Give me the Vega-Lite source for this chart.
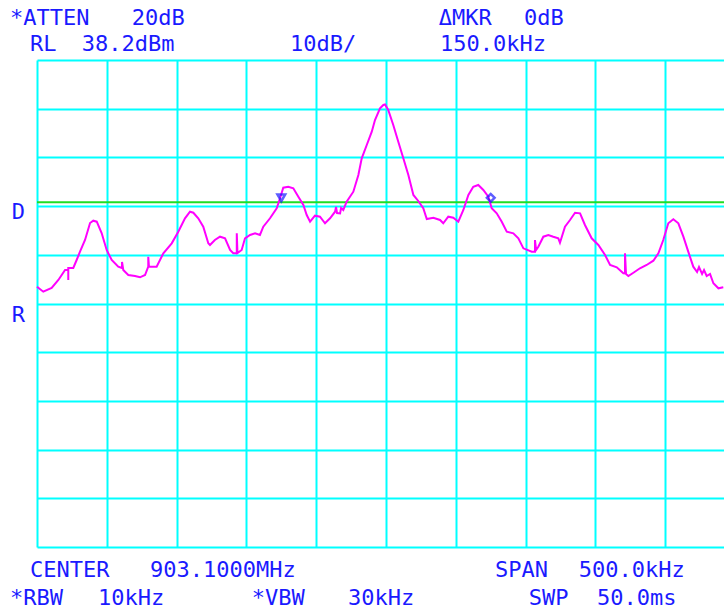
{
  "$schema": "https://vega.github.io/schema/vega-lite/v6.json",
  "width": 687,
  "height": 487,
  "autosize": {"type": "none"},
  "padding": {"left": 37, "top": 60, "right": 0, "bottom": 64},
  "background": "white",
  "config": {"view": {"stroke": null}},
  "datasets": {
    "trace": [
      {"i":1,"x":-250.0,"y":-8.35},{"i":2,"x":-245.5,"y":-9.38},{"i":3,"x":-239.5,"y":-8.62},{"i":4,"x":-234.7,"y":-6.97},
      {"i":5,"x":-229.9,"y":-4.92},{"i":6,"x":-227.6,"y":-4.92},{"i":7,"x":-227.6,"y":-6.97},{"i":8,"x":-227.6,"y":-4.51},
      {"i":9,"x":-224.0,"y":-4.51},{"i":10,"x":-221.6,"y":-2.87},{"i":11,"x":-219.2,"y":-1.16},{"i":12,"x":-215.6,"y":1.24},
      {"i":13,"x":-212.0,"y":4.73},{"i":14,"x":-209.7,"y":5.2},{"i":15,"x":-207.2,"y":5.0},{"i":16,"x":-203.7,"y":2.68},
      {"i":17,"x":-200.1,"y":-0.81},{"i":18,"x":-196.5,"y":-2.87},{"i":19,"x":-191.8,"y":-4.24},{"i":20,"x":-189.1,"y":-4.51},
      {"i":21,"x":-189.1,"y":-3.28},{"i":22,"x":-188.2,"y":-4.92},{"i":23,"x":-184.6,"y":-5.95},{"i":24,"x":-179.8,"y":-6.15},
      {"i":25,"x":-176.2,"y":-6.42},{"i":26,"x":-172.6,"y":-5.95},{"i":27,"x":-170.3,"y":-4.24},{"i":28,"x":-170.3,"y":-2.19},
      {"i":29,"x":-169.8,"y":-4.24},{"i":30,"x":-164.3,"y":-4.24},{"i":31,"x":-159.5,"y":-1.49},{"i":32,"x":-153.5,"y":0.56},
      {"i":33,"x":-148.8,"y":2.94},{"i":34,"x":-144.0,"y":5.7},{"i":35,"x":-140.4,"y":7.05},{"i":36,"x":-138.0,"y":6.84},
      {"i":37,"x":-134.5,"y":5.7},{"i":38,"x":-130.9,"y":3.97},{"i":39,"x":-127.3,"y":0.56},{"i":40,"x":-126.1,"y":0.21},
      {"i":41,"x":-122.6,"y":1.24},{"i":42,"x":-118.9,"y":1.92},{"i":43,"x":-115.3,"y":1.59},{"i":44,"x":-111.7,"y":-0.81},
      {"i":45,"x":-109.4,"y":-1.49},{"i":46,"x":-106.9,"y":-1.49},{"i":47,"x":-106.9,"y":2.61},{"i":48,"x":-106.4,"y":-1.43},
      {"i":49,"x":-103.4,"y":-0.81},{"i":50,"x":-101.0,"y":1.59},{"i":51,"x":-97.4,"y":2.27},{"i":52,"x":-93.8,"y":2.61},
      {"i":53,"x":-90.3,"y":2.27},{"i":54,"x":-87.9,"y":3.97},{"i":55,"x":-83.1,"y":5.7},{"i":56,"x":-78.3,"y":7.75},
      {"i":57,"x":-75.9,"y":9.8},{"i":58,"x":-73.6,"y":11.98},{"i":59,"x":-70.0,"y":12.18},{"i":60,"x":-66.4,"y":11.86},
      {"i":61,"x":-62.8,"y":10.13},{"i":62,"x":-59.2,"y":8.43},{"i":63,"x":-56.8,"y":6.37},{"i":64,"x":-54.4,"y":5.0},
      {"i":65,"x":-50.9,"y":6.23},{"i":66,"x":-47.3,"y":6.02},{"i":67,"x":-43.7,"y":4.67},{"i":68,"x":-40.1,"y":5.7},
      {"i":69,"x":-36.5,"y":7.05},{"i":70,"x":-35.8,"y":8.02},{"i":71,"x":-35.1,"y":6.78},{"i":72,"x":-32.9,"y":6.72},
      {"i":73,"x":-32.2,"y":7.81},{"i":74,"x":-30.6,"y":7.4},{"i":75,"x":-28.2,"y":9.1},{"i":76,"x":-23.4,"y":11.16},
      {"i":77,"x":-19.8,"y":14.59},{"i":78,"x":-17.4,"y":18.02},{"i":79,"x":-13.8,"y":20.75},{"i":80,"x":-10.2,"y":23.48},
      {"i":81,"x":-7.9,"y":25.88},{"i":82,"x":-4.3,"y":28.28},{"i":83,"x":-1.9,"y":28.96},{"i":84,"x":-0.7,"y":29.06},
      {"i":85,"x":1.6,"y":27.93},{"i":86,"x":5.2,"y":24.85},{"i":87,"x":8.8,"y":21.42},{"i":88,"x":12.4,"y":18.02},
      {"i":89,"x":16.0,"y":14.59},{"i":90,"x":19.6,"y":10.48},{"i":91,"x":23.1,"y":9.25},{"i":92,"x":26.7,"y":7.75},
      {"i":93,"x":29.2,"y":5.55},{"i":94,"x":33.9,"y":5.82},{"i":95,"x":38.7,"y":5.35},{"i":96,"x":41.0,"y":4.67},
      {"i":97,"x":44.6,"y":6.02},{"i":98,"x":48.2,"y":5.82},{"i":99,"x":51.8,"y":5.0},{"i":100,"x":55.4,"y":7.4},
      {"i":101,"x":59.0,"y":10.48},{"i":102,"x":62.5,"y":12.18},{"i":103,"x":66.1,"y":12.53},{"i":104,"x":69.7,"y":11.51},
      {"i":105,"x":73.3,"y":10.13},{"i":106,"x":75.7,"y":7.75},{"i":107,"x":79.3,"y":6.72},{"i":108,"x":82.9,"y":5.0},
      {"i":109,"x":86.5,"y":2.94},{"i":110,"x":91.2,"y":2.61},{"i":111,"x":94.8,"y":1.59},{"i":112,"x":98.4,"y":-0.47},
      {"i":113,"x":104.4,"y":-1.16},{"i":114,"x":106.7,"y":-1.16},{"i":115,"x":106.7,"y":1.24},{"i":116,"x":107.5,"y":-0.81},
      {"i":117,"x":109.1,"y":-0.14},{"i":118,"x":112.7,"y":1.92},{"i":119,"x":116.3,"y":2.27},{"i":120,"x":119.8,"y":1.92},
      {"i":121,"x":123.4,"y":1.59},{"i":122,"x":124.6,"y":0.68},{"i":123,"x":128.2,"y":3.97},{"i":124,"x":131.8,"y":5.35},
      {"i":125,"x":135.4,"y":6.84},{"i":126,"x":139.0,"y":6.72},{"i":127,"x":142.5,"y":4.32},{"i":128,"x":147.3,"y":1.59},
      {"i":129,"x":152.1,"y":0.21},{"i":130,"x":156.9,"y":-1.84},{"i":131,"x":160.5,"y":-3.89},{"i":132,"x":165.3,"y":-4.37},
      {"i":133,"x":170.0,"y":-5.6},{"i":134,"x":171.2,"y":-5.64},{"i":135,"x":171.2,"y":-1.49},{"i":136,"x":171.9,"y":-5.74},
      {"i":137,"x":173.6,"y":-6.15},{"i":138,"x":177.2,"y":-5.48},{"i":139,"x":181.9,"y":-4.57},{"i":140,"x":186.7,"y":-3.89},
      {"i":141,"x":191.5,"y":-3.01},{"i":142,"x":195.1,"y":-1.49},{"i":143,"x":198.6,"y":1.24},{"i":144,"x":202.2,"y":4.67},
      {"i":145,"x":205.8,"y":5.49},{"i":146,"x":209.4,"y":4.67},{"i":147,"x":213.0,"y":1.92},{"i":148,"x":216.5,"y":-1.16},
      {"i":149,"x":220.1,"y":-4.24},{"i":150,"x":222.8,"y":-5.33},{"i":151,"x":224.2,"y":-4.31},{"i":152,"x":226.4,"y":-5.74},
      {"i":153,"x":227.8,"y":-4.92},{"i":154,"x":229.7,"y":-6.15},{"i":155,"x":232.1,"y":-5.74},{"i":156,"x":234.5,"y":-7.65},
      {"i":157,"x":238.1,"y":-8.68},{"i":158,"x":241.6,"y":-8.47}
    ],
    "markers": [
      {"marker":"1","x":-75,"y":9.9},
      {"marker":"2","x":75,"y":9.9}
    ],
    "dline": [{"y":9.0}],
    "labels": [
      {"x":-269.3,"y":45.39,"t":"*ATTEN"},
      {"x":-182.2,"y":45.39,"t":"20dB"},
      {"x":37.7,"y":45.39,"t":"ΔMKR"},
      {"x":98.9,"y":45.39,"t":"0dB"},
      {"x":-255.0,"y":40.15,"t":"RL"},
      {"x":-218.0,"y":40.15,"t":"38.2dBm"},
      {"x":-68.8,"y":40.15,"t":"10dB/"},
      {"x":38.7,"y":40.15,"t":"150.0kHz"},
      {"x":-255.0,"y":-67.96,"t":"CENTER"},
      {"x":-169.1,"y":-67.96,"t":"903.1000MHz"},
      {"x":78.1,"y":-67.96,"t":"SPAN"},
      {"x":138.0,"y":-67.96,"t":"500.0kHz"},
      {"x":-269.3,"y":-73.71,"t":"*RBW"},
      {"x":-206.3,"y":-73.71,"t":"10kHz"},
      {"x":-96.2,"y":-73.71,"t":"*VBW"},
      {"x":-27.2,"y":-73.71,"t":"30kHz"},
      {"x":102.2,"y":-73.71,"t":"SWP"},
      {"x":151.1,"y":-73.71,"t":"50.0ms"},
      {"x":-268.0,"y":5.55,"t":"D"},
      {"x":-268.0,"y":-15.7,"t":"R"}
    ]
  },
  "encoding": {
    "x": {
      "field": "x", "type": "quantitative",
      "scale": {"domain": [-250, 242.1], "nice": false, "zero": false},
      "axis": {"values": [-250,-200,-150,-100,-50,0,50,100,150,200], "grid": true, "gridColor": "#00ffff", "gridWidth": 2, "gridOpacity": 1, "domain": false, "ticks": false, "labels": false, "title": null}
    },
    "y": {
      "field": "y", "type": "quantitative",
      "scale": {"domain": [-61.8, 38.2], "nice": false, "zero": false},
      "axis": {"values": [38.2,28.2,18.2,8.2,-1.8,-11.8,-21.8,-31.8,-41.8,-51.8,-61.8], "grid": true, "gridColor": "#00ffff", "gridWidth": 2, "gridOpacity": 1, "domain": false, "ticks": false, "labels": false, "title": null}
    }
  },
  "layer": [
    {
      "data": {"name": "dline"},
      "mark": {"type": "rule", "color": "#22dd22", "strokeWidth": 2},
      "encoding": {"x": {"value": 0}, "x2": {"value": 687}}
    },
    {
      "data": {"name": "trace"},
      "mark": {"type": "line", "color": "#ff00ff", "strokeWidth": 2, "interpolate": "linear"},
      "encoding": {"order": {"field": "i", "type": "quantitative"}}
    },
    {
      "data": {"name": "markers"},
      "mark": {"type": "point", "filled": false, "color": "#1a1aff", "strokeWidth": 2.5, "size": 60},
      "encoding": {
        "shape": {"field": "marker", "type": "nominal", "scale": {"domain": ["1","2"], "range": ["triangle-down","diamond"]}, "legend": null}
      }
    },
    {
      "data": {"name": "labels"},
      "mark": {"type": "text", "align": "left", "baseline": "alphabetic", "font": "DejaVu Sans Mono", "fontSize": 22, "color": "#1a1aff"},
      "encoding": {"text": {"field": "t", "type": "nominal"}}
    }
  ]
}
